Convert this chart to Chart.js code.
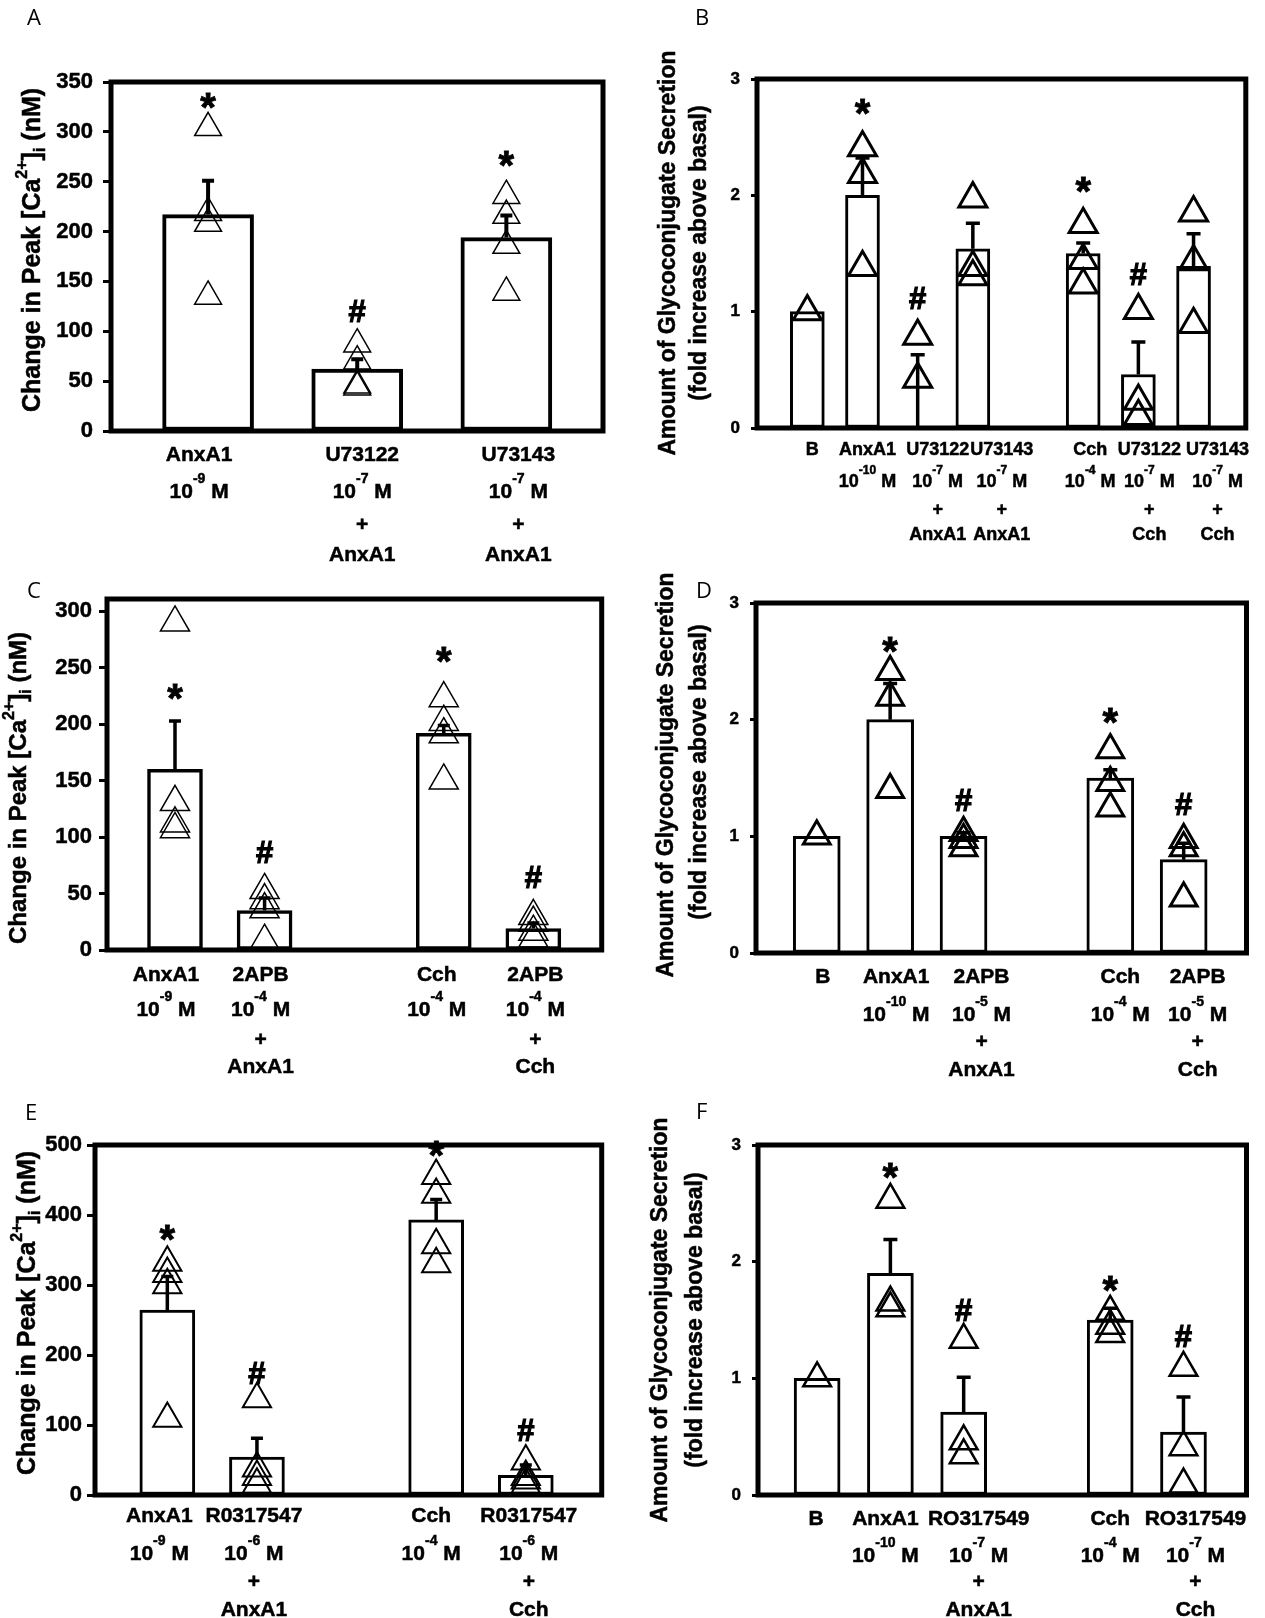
<!DOCTYPE html>
<html lang="en">
<head>
  <meta charset="UTF-8" />
  <title>AnxA1 – [Ca2+]i and glycoconjugate secretion</title>
  <script src="https://cdn.jsdelivr.net/npm/chart.js"></script>
  <style>
    body { margin: 0; background: #fff; }
    #fig { position: relative; width: 1265px; height: 1618px; }
    #fig canvas { position: absolute; }
    .letter { position: absolute; font-family: "Open Sans", sans-serif; font-size: 22px; line-height: 26px; color: #000; }
  </style>
</head>
<body>
<div id="fig">
  <canvas id="chartA" width="620" height="570" style="left:0;top:0"></canvas>
  <canvas id="chartB" width="645" height="570" style="left:620px;top:0"></canvas>
  <canvas id="chartC" width="620" height="520" style="left:0;top:570px"></canvas>
  <canvas id="chartD" width="645" height="545" style="left:620px;top:540px"></canvas>
  <canvas id="chartE" width="620" height="543" style="left:0;top:1075px"></canvas>
  <canvas id="chartF" width="645" height="543" style="left:620px;top:1075px"></canvas>
  <div class="letter" style="left:27px;top:3px">A</div>
  <div class="letter" style="left:695px;top:3px">B</div>
  <div class="letter" style="left:27px;top:576px">C</div>
  <div class="letter" style="left:696px;top:576px">D</div>
  <div class="letter" style="left:25px;top:1098px">E</div>
  <div class="letter" style="left:696px;top:1097px">F</div>
</div>

<script>
  // ---- data ----
  const caTitle = 'Change in Peak [Ca^{2+}]_{i} (nM)';
  const secTitle = ['Amount of Glycoconjugate Secretion', '(fold increase above basal)'];
  const foldTicks = [0, 1, 2, 3];

  // A: [Ca2+]i, U73122 / U73143
  const aLabels = [['AnxA1', '10^{-9} M'], ['U73122', '10^{-7} M', '+', 'AnxA1'], ['U73143', '10^{-7} M', '+', 'AnxA1']];
  const aPos = [1, 2, 3];
  const aMean = [217, 62, 194];
  const aSem = [34, 10, 22];
  const aPoints = [[304, 219, 208, 135], [87, 70, 46, 44], [236, 216, 186, 139]];
  const aMarks = ['*', '#', '*'];
  const aMarkAt = [331, 120, 273];
  const aTicks = [0, 50, 100, 150, 200, 250, 300, 350];

  // B: secretion, U73122 / U73143
  const bLabels = [['B'], ['AnxA1', '10^{-10} M'], ['U73122', '10^{-7} M', '+', 'AnxA1'], ['U73143', '10^{-7} M', '+', 'AnxA1'],
                   ['Cch', '10^{-4} M'], ['U73122', '10^{-7} M', '+', 'Cch'], ['U73143', '10^{-7} M', '+', 'Cch']];
  const bPos = [1, 2, 3, 4, 6, 7, 8];
  const bMean = [1.0, 2.0, 0, 1.54, 1.5, 0.46, 1.39];
  const bSem = [0, 0.32, 0.63, 0.22, 0.09, 0.28, 0.28];
  const bPoints = [[1.0], [2.41, 2.18, 1.38], [0.79, 0.42], [1.97, 1.38, 1.30], [1.75, 1.44, 1.23], [1.01, 0.23, 0.10], [1.85, 1.43, 0.89]];
  const bMarks = ['', '*', '#', '', '*', '#', ''];
  const bMarkAt = [0, 2.76, 1.12, 0, 2.09, 1.32, 0];

  // C: [Ca2+]i, 2APB
  const cLabels = [['AnxA1', '10^{-9} M'], ['2APB', '10^{-4} M', '+', 'AnxA1'], ['Cch', '10^{-4} M'], ['2APB', '10^{-4} M', '+', 'Cch']];
  const cPos = [1, 2, 4, 5];
  const cMean = [160, 35, 192, 19];
  const cSem = [43, 11, 7, 5];
  const cPoints = [[290, 131, 112, 107], [53, 44, 36, 8], [223, 202, 191, 150], [30, 24, 16, 10]];
  const cMarks = ['*', '#', '*', '#'];
  const cMarkAt = [229, 87, 261, 65];
  const cTicks = [0, 50, 100, 150, 200, 250, 300];

  // D: secretion, 2APB
  const dLabels = [['B'], ['AnxA1', '10^{-10} M'], ['2APB', '10^{-5} M', '+', 'AnxA1'], ['Cch', '10^{-4} M'], ['2APB', '10^{-5} M', '+', 'Cch']];
  const dPos = [1, 2, 3, 5, 6];
  const dMean = [1.0, 2.0, 1.0, 1.5, 0.8];
  const dSem = [0, 0.31, 0.03, 0.07, 0.14];
  const dPoints = [[1.0], [2.41, 2.19, 1.40], [1.03, 0.97, 0.90], [1.74, 1.46, 1.24], [0.97, 0.90, 0.47]];
  const dMarks = ['', '*', '#', '*', '#'];
  const dMarkAt = [0, 2.64, 1.31, 2.03, 1.28];

  // E: [Ca2+]i, R0317547
  const eLabels = [['AnxA1', '10^{-9} M'], ['R0317547', '10^{-6} M', '+', 'AnxA1'], ['Cch', '10^{-4} M'], ['R0317547', '10^{-6} M', '+', 'Cch']];
  const ePos = [1, 2, 4, 5];
  const eMean = [264, 54, 393, 28];
  const eSem = [48, 27, 29, 15];
  const ePoints = [[332, 316, 300, 109], [137, 38, 26, 15], [456, 429, 357, 330], [48, 26, 21, 15]];
  const eMarks = ['*', '#', '*', '#'];
  const eMarkAt = [374, 175, 494, 93];
  const eTicks = [0, 100, 200, 300, 400, 500];

  // F: secretion, RO317549
  const fLabels = [['B'], ['AnxA1', '10^{-10} M'], ['RO317549', '10^{-7} M', '+', 'AnxA1'], ['Cch', '10^{-4} M'], ['RO317549', '10^{-7} M', '+', 'Cch']];
  const fPos = [1, 2, 3, 5, 6];
  const fMean = [1.0, 1.9, 0.71, 1.5, 0.54];
  const fSem = [0, 0.29, 0.30, 0.10, 0.30];
  const fPoints = [[1.0], [2.53, 1.65, 1.60], [1.33, 0.46, 0.34], [1.57, 1.45, 1.38], [1.09, 0.41, 0.09]];
  const fMarks = ['', '*', '#', '*', '#'];
  const fMarkAt = [0, 2.78, 1.59, 1.81, 1.36];

  // ---- drawing helpers ----
  const FAMILY = '"Liberation Sans", Arial, sans-serif';
  function boldFont(size) { return 'bold ' + size + 'px ' + FAMILY; }

  // split "10^{-9} M" / "[Ca^{2+}]_{i}" into plain / sup / sub parts
  function richParts(s) {
    const out = [];
    const re = /([\^_])\{([^}]*)\}/g;
    let last = 0, m;
    while ((m = re.exec(s))) {
      if (m.index > last) out.push([s.slice(last, m.index), '']);
      out.push([m[2], m[1] === '^' ? 'sup' : 'sub']);
      last = re.lastIndex;
    }
    if (last < s.length) out.push([s.slice(last), '']);
    return out;
  }

  function drawRich(ctx, s, cx, cy, size, supRaise) {
    const parts = richParts(s);
    const small = Math.round(size * 0.65);
    let total = 0;
    const widths = parts.map(([t, k]) => {
      ctx.font = boldFont(k ? small : size);
      const w = ctx.measureText(t).width;
      total += w;
      return w;
    });
    let x = cx - total / 2;
    ctx.textAlign = 'left';
    ctx.textBaseline = 'middle';
    ctx.lineWidth = 0.5;
    parts.forEach(([t, k], i) => {
      ctx.font = boldFont(k ? small : size);
      const y = k === 'sup' ? cy - size * supRaise : (k === 'sub' ? cy + size * 0.3 : cy);
      ctx.fillText(t, x, y);
      ctx.strokeText(t, x, y);
      x += widths[i];
    });
  }

  function panelPlugin(cfg) {
    return {
      id: 'panel',
      afterDraw(chart) {
        const ctx = chart.ctx, area = chart.chartArea;
        const xs = chart.scales.x, ys = chart.scales.y;
        ctx.save();
        ctx.fillStyle = '#000';
        ctx.strokeStyle = '#000';

        // SEM bars (upper half only)
        ctx.lineWidth = cfg.errW;
        cfg.pos.forEach((p, i) => {
          if (!cfg.sem[i]) return;
          const x = xs.getPixelForValue(p);
          const y0 = ys.getPixelForValue(cfg.mean[i]);
          const y1 = ys.getPixelForValue(cfg.mean[i] + cfg.sem[i]);
          ctx.beginPath();
          ctx.moveTo(x, y0); ctx.lineTo(x, y1);
          ctx.moveTo(x - cfg.cap, y1); ctx.lineTo(x + cfg.cap, y1);
          ctx.stroke();
        });

        // frame around plot area
        ctx.lineWidth = cfg.frameW;
        ctx.strokeRect(area.left, area.top, area.right - area.left, area.bottom - area.top);

        // * and # marks
        cfg.marks.forEach((s, i) => {
          if (!s) return;
          ctx.font = boldFont(s === '*' ? 40 : 31);
          ctx.lineWidth = s === '*' ? 0.8 : 1.2;
          ctx.textAlign = 'center';
          ctx.textBaseline = 'alphabetic';
          const m = ctx.measureText(s);
          const x = xs.getPixelForValue(cfg.pos[i]);
          const y = ys.getPixelForValue(cfg.markAt[i]) + (m.actualBoundingBoxAscent - m.actualBoundingBoxDescent) / 2;
          ctx.fillText(s, x, y);
          ctx.strokeText(s, x, y);
        });

        // category labels under the axis
        cfg.labels.forEach((lines, i) => {
          const cx = xs.getPixelForValue(cfg.pos[i]) + cfg.shift[i];
          lines.forEach((ln, j) => drawRich(ctx, ln, cx, area.bottom + cfg.rows[j], cfg.labelSize, 0.62));
        });

        // rotated y titles
        cfg.titles.forEach(t => {
          ctx.save();
          ctx.translate(t.x, t.y);
          ctx.rotate(-Math.PI / 2);
          drawRich(ctx, t.text, 0, 0, cfg.titleSize, 0.4);
          ctx.restore();
        });
        ctx.restore();
      }
    };
  }

  function makeChart(id, cfg) {
    const canvas = document.getElementById(id);
    const W = canvas.width, H = canvas.height;
    const pts = [];
    cfg.points.forEach((list, i) => list.forEach(v => pts.push({ x: cfg.pos[i], y: v })));

    return new Chart(canvas, {
      type: 'bar',
      data: {
        datasets: [
          {
            type: 'scatter',
            data: pts,
            pointStyle: 'triangle',
            pointRadius: cfg.triR,
            pointBorderWidth: cfg.triW,
            borderColor: '#000',
            backgroundColor: 'rgba(0,0,0,0)',
            order: 0
          },
          {
            type: 'bar',
            data: cfg.pos.map((p, i) => ({ x: p, y: cfg.mean[i] })),
            barThickness: cfg.barW,
            backgroundColor: '#fff',
            borderColor: '#000',
            borderWidth: cfg.barBW,
            borderSkipped: false,
            order: 1
          }
        ]
      },
      options: {
        responsive: false,
        animation: false,
        events: [],
        layout: { padding: { left: cfg.area[0] - cfg.yW, right: W - cfg.area[1], top: cfg.area[2], bottom: 0 } },
        plugins: { legend: { display: false }, tooltip: { enabled: false } },
        scales: {
          x: {
            type: 'linear', min: cfg.xRange[0], max: cfg.xRange[1], offset: false,
            grid: { display: false }, border: { display: false }, ticks: { display: false },
            afterFit: s => { s.height = H - cfg.area[3]; }
          },
          y: {
            type: 'linear', min: 0, max: cfg.yMax,
            afterBuildTicks: s => { s.ticks = cfg.ticks.map(v => ({ value: v })); },
            grid: { drawOnChartArea: false, drawTicks: true, tickLength: cfg.tickLen, tickWidth: 3, tickColor: '#000' },
            border: { display: false },
            ticks: {
              font: { family: FAMILY, size: cfg.tickSize, weight: 'bold' }, color: '#000', padding: cfg.tickPad,
              textStrokeColor: '#000', textStrokeWidth: 0.5
            },
            afterFit: s => { s.width = cfg.yW; }
          }
        }
      },
      plugins: [panelPlugin(cfg)]
    });
  }

  function drawAll() {
    makeChart('chartA', {
      pos: aPos, mean: aMean, sem: aSem, points: aPoints, marks: aMarks, markAt: aMarkAt, labels: aLabels,
      ticks: aTicks, yMax: 350, xRange: [0.349, 3.648], area: [111, 609, 82, 431], yW: 60,
      barW: 91, barBW: 4, triR: 15.5, triW: 1.5, errW: 4, cap: 6, frameW: 5,
      tickSize: 22, tickLen: 8, tickPad: 10, labelSize: 21, rows: [24, 61, 94, 124], shift: [-9, 5, 12],
      titleSize: 25, titles: [{ text: caTitle, x: 33, y: 250 }]
    });

    makeChart('chartB', {
      pos: bPos, mean: bMean, sem: bSem, points: bPoints, marks: bMarks, markAt: bMarkAt, labels: bLabels,
      ticks: foldTicks, yMax: 3, xRange: [0.088, 8.947], area: [137, 642, 79, 428], yW: 40,
      barW: 34, barBW: 3, triR: 16.2, triW: 3, errW: 3.5, cap: 7, frameW: 5,
      tickSize: 17, tickLen: 6, tickPad: 11, labelSize: 18, rows: [22, 54, 82, 107], shift: [5, 5, 20, 29, 7, 11, 24],
      titleSize: 23, titles: [{ text: secTitle[0], x: 49, y: 253 }, { text: secTitle[1], x: 80, y: 253 }]
    });

    makeChart('chartC', {
      pos: cPos, mean: cMean, sem: cSem, points: cPoints, marks: cMarks, markAt: cMarkAt, labels: cLabels,
      ticks: cTicks, yMax: 311, xRange: [0.241, 5.763], area: [107, 609, 29, 380], yW: 60,
      barW: 55, barBW: 3.5, triR: 16.8, triW: 1.5, errW: 3.5, cap: 6, frameW: 5,
      tickSize: 22, tickLen: 8, tickPad: 7, labelSize: 21, rows: [25, 60, 90, 117], shift: [-9, -4, -7, 2],
      titleSize: 24, titles: [{ text: caTitle, x: 19, y: 218 }]
    });

    makeChart('chartD', {
      pos: dPos, mean: dMean, sem: dSem, points: dPoints, marks: dMarks, markAt: dMarkAt, labels: dLabels,
      ticks: foldTicks, yMax: 3, xRange: [0.172, 6.856], area: [136, 642, 63, 413], yW: 40,
      barW: 47, barBW: 3, triR: 15.5, triW: 3, errW: 3.5, cap: 7, frameW: 5,
      tickSize: 17, tickLen: 6, tickPad: 11, labelSize: 21, rows: [24, 62, 89, 117], shift: [6, 6, 18, 10, 14],
      titleSize: 23, titles: [{ text: secTitle[0], x: 47, y: 235 }, { text: secTitle[1], x: 80, y: 232 }]
    });

    makeChart('chartE', {
      pos: ePos, mean: eMean, sem: eSem, points: ePoints, marks: eMarks, markAt: eMarkAt, labels: eLabels,
      ticks: eTicks, yMax: 500, xRange: [0.193, 5.847], area: [95, 609, 70, 420], yW: 60,
      barW: 55, barBW: 3, triR: 16.3, triW: 2, errW: 3.5, cap: 6, frameW: 5,
      tickSize: 22, tickLen: 8, tickPad: 5, labelSize: 21, rows: [21, 59, 87, 115], shift: [-8, -3, -5, 3],
      titleSize: 25, titles: [{ text: caTitle, x: 28, y: 238 }]
    });

    makeChart('chartF', {
      pos: fPos, mean: fMean, sem: fSem, points: fPoints, marks: fMarks, markAt: fMarkAt, labels: fLabels,
      ticks: foldTicks, yMax: 3, xRange: [0.193, 6.86], area: [138, 642, 70, 420], yW: 40,
      barW: 46, barBW: 3, triR: 16, triW: 2.5, errW: 3.5, cap: 7, frameW: 5,
      tickSize: 17, tickLen: 6, tickPad: 11, labelSize: 21, rows: [24, 61, 87, 115], shift: [-1, -5, 15, 0, 12],
      titleSize: 23, titles: [{ text: secTitle[0], x: 41, y: 245 }, { text: secTitle[1], x: 76, y: 245 }]
    });
  }

  // make sure the bold face is ready before the canvases are painted
  document.fonts.load('bold 20px "Liberation Sans"').then(drawAll, drawAll);
</script>
</body>
</html>
